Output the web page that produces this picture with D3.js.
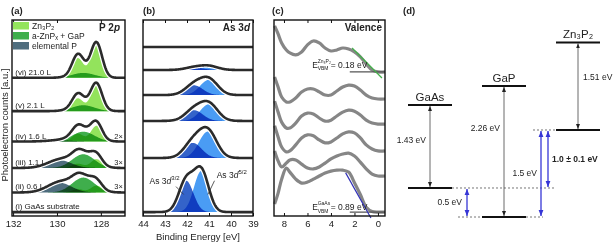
<!DOCTYPE html>
<meta charset="utf-8">
<script src="https://cdn.jsdelivr.net/npm/d3@7"></script>
<style>
body { margin: 0; background: #fff; }
text { font-family: "Liberation Sans", Arial, sans-serif; fill: #222; }
.frame { fill: none; stroke: #111; stroke-width: 1.4px; }
.axis path { display: none; }
.axis line { stroke: #111; stroke-width: 1px; }
.axis text { font-size: 9.5px; fill: #222; }
.comp { mix-blend-mode: multiply; stroke: none; }
</style>
<body>
<script>

// ---------- (a) P 2p, spectra listed top to bottom ----------
var p2pLabels = ["(vi) 21.0 L", "(v) 2.1 L", "(iv) 1.6 L", "(iii) 1.1 L", "(ii) 0.6 L", "(i) GaAs substrate"];
var p2pScale = ["", "", "2\u00d7", "3\u00d7", "3\u00d7", ""];
var p2pOffset = [70.5, 53.5, 38, 24.5, 12, 2];
var zn3p2Main = [17, 13, 8, 4.5, 3.5, 0];     // 2p3/2 near 128.2 eV
var zn3p2Minor = [10, 6.5, 4, 2.2, 1.7, 0];   // 2p1/2 near 129.05 eV
var znpxHeight = [2.5, 3, 5, 7, 7.6, 0];      // a-ZnPx + GaP near 128.8 eV
var elemPHeight = [0, 0, 0.6, 4, 5, 0];       // elemental P near 129.9 eV
var p2pCenter = [128.2, 129.05, 128.8, 129.9];
var p2pFwhm = [0.6, 0.6, 1.2, 1.3];
var p2pLegend = ["Zn\u2083P\u2082", "a-ZnP\u2093 + GaP", "elemental P"];
var p2pColors = ["#93e35c", "#3fae4c", "#4f6d7e"];

// ---------- (b) As 3d ----------
var as3dOffset = [86.2, 74.5, 61.7, 48.5, 29.6, 2];
var as52Height = [0, 2, 7.8, 8.5, 13.5, 21];
var as32Height = [0, 1.3, 5, 5.5, 7.7, 16];
var as52Center = [41.0, 41.0, 41.0, 41.0, 41.05, 41.35];
var asFwhm = [0.95, 0.95, 0.95, 0.95, 0.95, 0.78];
var asSplit = 0.69;

// ---------- (c) valence band ----------
var vbEnergy = [8.8, 8.5, 8.2, 7.8, 7.5, 7.0, 6.5, 6.0, 5.5, 5.0, 4.5, 4.0, 3.5, 3.0, 2.5, 2.0, 1.5, 1.0, 0.5, 0.0, -0.6];
var vbOffset = [73.5, 59.7, 46.9, 33.2, 20.4, 2];
var vbCounts = [
  [23.5, 19.4, 14.8, 11.2, 9.7, 8.7, 10.2, 13.8, 15.8, 14.8, 12.2, 10.7, 11.2, 12.2, 11.7, 10.2, 7.7, 4.1, 1.0, 0, 0],
  [11.2, 6.1, 1.0, -1.5, -1.5, 0.5, 3.6, 5.1, 5.1, 3.6, 2.0, 2.0, 4.1, 6.1, 7.1, 6.6, 4.6, 2.0, 0.5, 0, 0],
  [11.7, 6.1, 1.0, -2.0, -2.0, 0.5, 4.1, 5.6, 5.1, 3.1, 1.5, 2.0, 4.1, 6.1, 7.1, 6.6, 4.6, 2.0, 0.5, 0, 0],
  [12.8, 7.1, 2.0, -0.5, 0, 3.1, 6.6, 8.2, 7.7, 5.6, 4.1, 4.6, 6.6, 8.7, 9.7, 9.2, 6.6, 3.1, 1.0, 0, 0],
  [12.8, 7.7, 4.6, 6.6, 8.2, 8.2, 6.1, 4.1, 3.6, 4.6, 6.6, 8.7, 10.2, 11.2, 11.7, 10.2, 7.1, 3.6, 1.0, 0, 0],
  [4.1, 9.7, 16.8, 22.4, 20.4, 16.8, 14.8, 15.3, 16.8, 18.4, 19.9, 20.9, 21.4, 21.4, 20.4, 15, 9, 2.5, 0.3, 0, 0]
];
var vbmZn3P2 = 0.18, vbmGaAs = 0.89;
var fitZn3P2 = [[2.2, 12.2], [-0.34, -3.1]];
var fitGaAs = [[2.75, 20], [0.6, -3]];

// ---------- (d) band alignment ----------
var materials = ["GaAs", "GaP", "Zn\u2083P\u2082"];
var bandGap = [1.43, 2.26, 1.51];
var vbLevel = [0, -0.5, 1.0];     // relative to GaAs VBM
var gapText = ["1.43 eV", "2.26 eV", "1.51 eV"];

var W = 615, H = 251, yTop = 20, yBot = 216;
var svg = d3.select("body").append("svg").attr("width", W).attr("height", H);

var y = d3.scaleLinear().domain([0, 100]).range([yBot, yTop]);
var xA = d3.scaleLinear().domain([132.05, 126.9]).range([12, 125]);
var xB = d3.scaleLinear().domain([44, 39]).range([143, 253]);
var xC = d3.scaleLinear().domain([8.85, -0.6]).range([274, 385]);

function gauss(e, c, h, w) {
  return h * Math.exp(-4 * Math.LN2 * (e - c) * (e - c) / (w * w));
}

function frame(x, ticks) {
  svg.append("g").attr("class", "axis").attr("transform", "translate(0," + yBot + ")")
    .call(d3.axisBottom(x).tickValues(ticks).tickSizeInner(-3).tickSizeOuter(0).tickPadding(4).tickFormat(d3.format("d")));
  svg.append("g").attr("class", "axis").attr("transform", "translate(0," + yTop + ")")
    .call(d3.axisTop(x).tickValues(ticks).tickSizeInner(-3).tickSizeOuter(0).tickFormat(""));
  svg.append("rect").attr("class", "frame")
    .attr("x", x.range()[0]).attr("y", yTop)
    .attr("width", x.range()[1] - x.range()[0]).attr("height", yBot - yTop);
}

function envelope(x, energies, off, f) {
  var line = d3.line().x(function(e) { return x(e); }).y(function(e) { return y(off + f(e)); });
  svg.append("path").datum(energies).attr("d", line)
    .attr("fill", "none").attr("stroke", "#fff").attr("stroke-width", 5);
  svg.append("path").datum(energies).attr("d", line)
    .attr("fill", "none").attr("stroke", "#2b2b2b").attr("stroke-width", 2.6);
}

function panelLabel(txt, x) {
  svg.append("text").attr("x", x).attr("y", 14).attr("font-size", 9.5).attr("font-weight", "bold").text(txt);
}

// ----- panel (a) -----
var eA = d3.range(126.9, 132.06, 0.02);
p2pOffset.forEach(function(off, i) {
  var comps = [
    function(e) { return gauss(e, p2pCenter[3], elemPHeight[i], p2pFwhm[3]); },
    function(e) { return gauss(e, p2pCenter[2], znpxHeight[i], p2pFwhm[2]); },
    function(e) { return gauss(e, p2pCenter[0], zn3p2Main[i], p2pFwhm[0]) + gauss(e, p2pCenter[1], zn3p2Minor[i], p2pFwhm[1]); }
  ];
  var colors = [p2pColors[2], p2pColors[1], p2pColors[0]];
  comps.forEach(function(f, k) {
    svg.append("path").datum(eA).attr("class", "comp").attr("fill", colors[k])
      .attr("d", d3.area().x(function(e) { return xA(e); }).y0(y(off)).y1(function(e) { return y(off + f(e)); }));
  });
  envelope(xA, eA, off, function(e) { return comps[0](e) + comps[1](e) + comps[2](e); });
  svg.append("text").attr("x", xA(131.9)).attr("y", y(off) - 3).attr("font-size", 8).attr("fill", "#333").text(p2pLabels[i]);
  if (p2pScale[i]) {
    svg.append("text").attr("x", xA(127.0)).attr("y", y(off) - 3).attr("text-anchor", "end")
      .attr("font-size", 7.5).attr("fill", "#333").text(p2pScale[i]);
  }
});
frame(xA, [132, 130, 128]);

p2pLegend.forEach(function(t, i) {
  svg.append("rect").attr("x", 13).attr("y", 22 + i * 10).attr("width", 16).attr("height", 7.5).attr("fill", p2pColors[i]);
  svg.append("text").attr("x", 32).attr("y", 28.5 + i * 10).attr("font-size", 8.5).attr("fill", "#333").text(t);
});
var tp = svg.append("text").attr("x", 120).attr("y", 31).attr("text-anchor", "end").attr("font-size", 10).attr("font-weight", "bold");
tp.append("tspan").text("P 2");
tp.append("tspan").attr("font-style", "italic").text("p");

svg.append("text").attr("transform", "translate(8,125) rotate(-90)").attr("text-anchor", "middle")
  .attr("font-size", 9.5).text("Photoelectron counts [a.u.]");

// ----- panel (b) -----
var eB = d3.range(39, 44.001, 0.02);
as3dOffset.forEach(function(off, i) {
  var c32 = function(e) { return gauss(e, as52Center[i] + asSplit, as32Height[i], asFwhm[i]); };
  var c52 = function(e) { return gauss(e, as52Center[i], as52Height[i], asFwhm[i]); };
  [[c32, "#3463c9"], [c52, "#4a9cf4"]].forEach(function(c) {
    svg.append("path").datum(eB).attr("class", "comp").attr("fill", c[1])
      .attr("d", d3.area().x(function(e) { return xB(e); }).y0(y(off)).y1(function(e) { return y(off + c[0](e)); }));
  });
  envelope(xB, eB, off, function(e) { return c32(e) + c52(e); });
});
frame(xB, [44, 43, 42, 41, 40, 39]);

var ta = svg.append("text").attr("x", 250).attr("y", 31).attr("text-anchor", "end").attr("font-size", 10).attr("font-weight", "bold");
ta.append("tspan").text("As 3");
ta.append("tspan").attr("font-style", "italic").text("d");

function asLabel(x0, y0, sup, x1, y1, x2, y2) {
  var t = svg.append("text").attr("x", xB(x0)).attr("y", y(y0)).attr("font-size", 8.5).attr("fill", "#333");
  t.append("tspan").text("As 3");
  t.append("tspan").attr("font-style", "italic").text("d");
  t.append("tspan").attr("dy", -3.5).attr("font-size", 6).text(sup);
  svg.append("line").attr("x1", xB(x1)).attr("y1", y(y1)).attr("x2", xB(x2)).attr("y2", y(y2))
    .attr("stroke", "#333").attr("stroke-width", 0.8);
}
asLabel(43.7, 16.5, "3/2", 42.5, 15, 42.15, 11);
asLabel(40.65, 19.5, "5/2", 40.75, 18, 41.05, 11);

svg.append("text").attr("x", xB(41.5)).attr("y", 240).attr("text-anchor", "middle").attr("font-size", 9.5)
  .text("Binding Energy [eV]");

// ----- panel (c) -----
vbOffset.forEach(function(off, i) {
  var pts = vbEnergy.map(function(e, k) { return [e, off + vbCounts[i][k]]; });
  svg.append("path").datum(pts)
    .attr("d", d3.line().curve(d3.curveCatmullRom).x(function(d) { return xC(d[0]); }).y(function(d) { return y(d[1]); }))
    .attr("fill", "none").attr("stroke", "#868686").attr("stroke-width", 3.2);
});
[[vbOffset[0], fitZn3P2, "#43b04a"], [vbOffset[5], fitGaAs, "#3030b8"]].forEach(function(f) {
  svg.append("line").attr("x1", xC(2.4)).attr("x2", xC(-0.6)).attr("y1", y(f[0])).attr("y2", y(f[0]))
    .attr("stroke", "#555").attr("stroke-width", 1.3);
  svg.append("line")
    .attr("x1", xC(f[1][0][0])).attr("y1", y(f[0] + f[1][0][1]))
    .attr("x2", xC(f[1][1][0])).attr("y2", y(f[0] + f[1][1][1]))
    .attr("stroke", f[2]).attr("stroke-width", 1.2);
});
frame(xC, [8, 6, 4, 2, 0]);
svg.append("text").attr("x", 382).attr("y", 31).attr("text-anchor", "end").attr("font-size", 10).attr("font-weight", "bold").text("Valence");

function vbmLabel(yy, sup, val) {
  var x0 = xC(5.6);
  svg.append("text").attr("x", x0).attr("y", yy).attr("font-size", 8.5).attr("fill", "#333").text("E");
  svg.append("text").attr("x", x0 + 5.5).attr("y", yy - 5).attr("font-size", 5).attr("fill", "#333").text(sup);
  svg.append("text").attr("x", x0 + 5.5).attr("y", yy + 2.5).attr("font-size", 5).attr("fill", "#333").text("VBM");
  svg.append("text").attr("x", x0 + 18.5).attr("y", yy).attr("font-size", 8.5).attr("fill", "#333").text("= " + val.toFixed(2) + " eV");
}
vbmLabel(y(vbOffset[0]) - 4, "Zn\u2083P\u2082", vbmZn3P2);
vbmLabel(y(vbOffset[5]) - 2, "GaAs", vbmGaAs);

panelLabel("(a)", 11);
panelLabel("(b)", 143);
panelLabel("(c)", 272);
panelLabel("(d)", 403);

// ----- panel (d) -----
var xD = d3.scalePoint().domain(materials).range([430, 578]);
var yD = d3.scaleLinear().domain([-0.5, 2.51]).range([217, 42.4]);
var half = 22;
var blue = "#3636d6";

var defs = svg.append("defs");
function marker(id, color, size) {
  defs.append("marker").attr("id", id).attr("viewBox", "0 0 10 10").attr("refX", 10).attr("refY", 5)
    .attr("markerWidth", size).attr("markerHeight", size).attr("markerUnits", "userSpaceOnUse")
    .attr("orient", "auto-start-reverse")
    .append("path").attr("d", "M0,1L10,5L0,9Z").attr("fill", color);
}
marker("hk", "#222", 5);
marker("hb", blue, 6);

function dashed(e, x1, x2) {
  svg.append("line").attr("x1", x1).attr("x2", x2).attr("y1", yD(e)).attr("y2", yD(e))
    .attr("stroke", "#666").attr("stroke-width", 0.9).attr("stroke-dasharray", "2,2");
}
dashed(vbLevel[0], xD(materials[0]) + half, 555);
dashed(vbLevel[1], 458, xD(materials[1]) - half);
dashed(vbLevel[1], xD(materials[1]) + half, 543);
dashed(vbLevel[2], 533, xD(materials[2]) - half);

var gapPos = [0.58, 0.68, 0.6];
materials.forEach(function(m, i) {
  var cx = xD(m), vb = vbLevel[i], cb = vbLevel[i] + bandGap[i];
  [vb, cb].forEach(function(e) {
    svg.append("line").attr("x1", cx - half).attr("x2", cx + half).attr("y1", yD(e)).attr("y2", yD(e))
      .attr("stroke", "#111").attr("stroke-width", 2);
  });
  svg.append("line").attr("x1", cx).attr("x2", cx).attr("y1", yD(vb) - 1).attr("y2", yD(cb) + 1)
    .attr("stroke", "#444").attr("stroke-width", 0.8)
    .attr("marker-start", "url(#hk)").attr("marker-end", "url(#hk)");
  svg.append("text").attr("x", cx).attr("y", yD(cb) - 4).attr("text-anchor", "middle").attr("font-size", 11.5).text(m);
  var right = i === 2;
  svg.append("text").attr("x", right ? cx + 5 : cx - 4).attr("y", yD(vb + bandGap[i] * gapPos[i]) + 3)
    .attr("text-anchor", right ? "start" : "end").attr("font-size", 8.5).attr("fill", "#333").text(gapText[i]);
});

function blueArrow(x, e1, e2, txt, tx, anchor, bold) {
  svg.append("line").attr("x1", x).attr("x2", x).attr("y1", yD(e1) + (e1 < e2 ? -1 : 1)).attr("y2", yD(e2) + (e2 < e1 ? -1 : 1))
    .attr("stroke", blue).attr("stroke-width", 1.3)
    .attr("marker-start", "url(#hb)").attr("marker-end", "url(#hb)");
  svg.append("text").attr("x", tx).attr("y", yD((e1 + e2) / 2) + 3).attr("text-anchor", anchor)
    .attr("font-size", 8.5).attr("font-weight", bold ? "bold" : "normal").attr("fill", blue).text(txt);
}
blueArrow(467, vbLevel[0], vbLevel[1], "0.5 eV", 462, "end", false);
blueArrow(541, vbLevel[1], vbLevel[2], "1.5 eV", 537, "end", false);
blueArrow(548, vbLevel[0], vbLevel[2], "1.0 \u00b1 0.1 eV", 552, "start", true);

</script>
</body>
